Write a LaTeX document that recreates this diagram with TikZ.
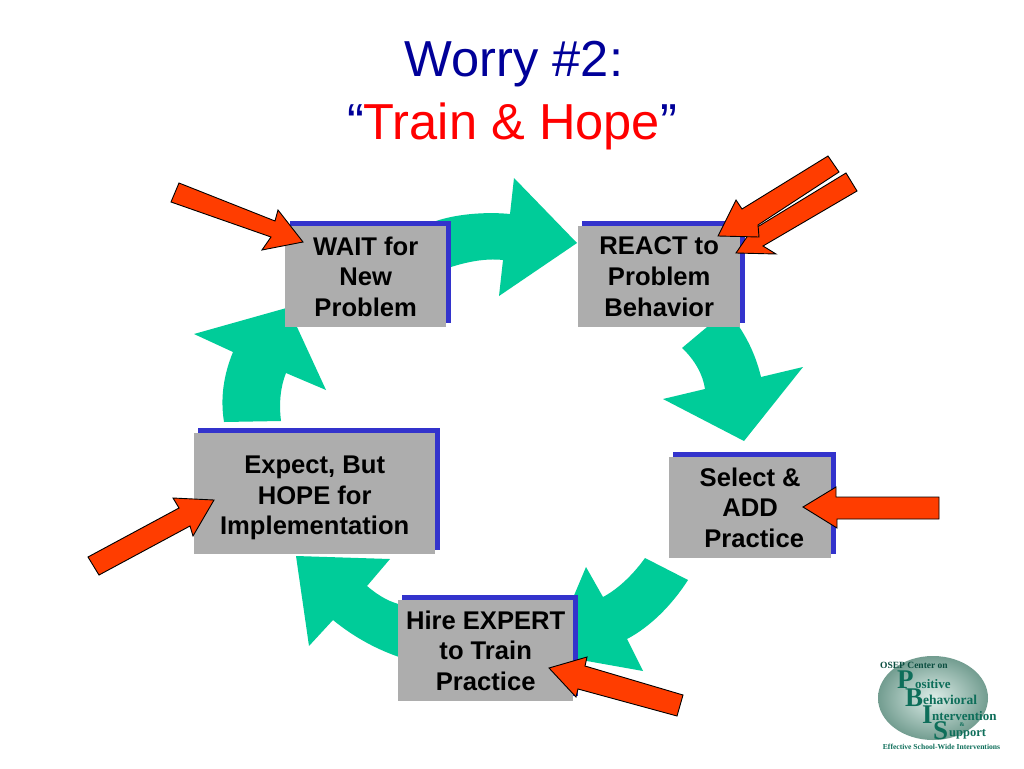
\documentclass[tikz,border=0pt]{standalone}
\usepackage{fontspec}
\setmainfont{Liberation Sans}
\newfontfamily\logofont{Liberation Serif}
\definecolor{tealc}{HTML}{00CC99}
\definecolor{boxg}{HTML}{ADADAD}
\definecolor{shad}{HTML}{3333CC}
\definecolor{redo}{HTML}{FF3D00}
\definecolor{titleb}{HTML}{000099}
\definecolor{logog}{HTML}{8FC4B4}
\definecolor{logod}{HTML}{0E6E5A}
\tikzset{
 bluebox/.style={fill=shad,draw=none},
 greybox/.style={fill=boxg,draw=none,align=center,font=\fontsize{25.6}{30.6}\selectfont\bfseries,text=black,inner sep=0pt},
 curved/.style={fill=tealc,draw=none},
 redarrow/.style={fill=redo,draw=black,line width=0.9pt,line join=miter},
 titlefont/.style={font=\fontsize{50.6}{60}\selectfont,inner sep=0pt},
 logotext/.style={font=\logofont\fontsize{#1}{#1}\selectfont\bfseries,text=logod,inner sep=0pt},
}
\begin{document}
\begin{tikzpicture}[x=1pt,y=-1pt]
\useasboundingbox (0,0) rectangle (1024,768);
\fill[white] (0,0) rectangle (1024,768);
% title
\node[titlefont,text=titleb,anchor=center] (t1) at (514,64) {Worry \#2:};
\node[titlefont,anchor=center] (t2) at (512,126) {\textcolor{titleb}{“}\textcolor{red}{Train \& Hope}\textcolor{titleb}{”}};
% curved arrows
\fill[curved] (436,221) .. controls (460,213) and (490,212) .. (510,214) -- (514,178) -- (577,243) -- (499,296) -- (503,260) .. controls (485,258) and (465,262) .. (445,269) -- cycle;
\fill[curved] (682,348) -- (713,322) -- (736,322) .. controls (745,335) and (755,352) .. (761,377) -- (803,367) -- (744,441) -- (663,399) -- (705,389) .. controls (703,375) and (695,360) .. (682,348) -- cycle;
\fill[curved] (688,580) -- (645,558) .. controls (635,572) and (620,588) .. (603,597) -- (586,567) -- (570,605) -- (570,658) -- (643,671) -- (627,639) .. controls (650,627) and (672,605) .. (688,580) -- cycle;
\fill[curved] (402,605) .. controls (390,602) and (380,597) .. (367,586) -- (390,559) -- (296,556) -- (309,646) -- (333,620) .. controls (355,638) and (378,650) .. (402,658) -- cycle;
\fill[curved] (224,422) .. controls (220,397) and (224,374) .. (233,352) -- (194,334) -- (290,307) -- (297,327) -- (326,390) -- (286,373) .. controls (280,388) and (279,405) .. (281,421) -- cycle;
% boxes
\fill[bluebox] (290,221) rectangle (451,323);
\node[greybox,minimum width=161pt,minimum height=101pt,anchor=north west] (wait) at (285,226) {WAIT for\\New\\Problem};
\fill[bluebox] (582,221) rectangle (745,323);
\node[greybox,minimum width=162pt,minimum height=101pt,anchor=north west] (react) at (578,226) {REACT to\\Problem\\Behavior};
\fill[bluebox] (673,452) rectangle (836,554);
\node[greybox,minimum width=162pt,minimum height=101pt,anchor=north west] (select) at (669,457) {Select \&\\ADD\\\hspace{8pt}Practice};
\fill[bluebox] (402,595) rectangle (578,696);
\node[greybox,minimum width=175pt,minimum height=101pt,anchor=north west] (hire) at (398,600) {Hire EXPERT\\to Train\\Practice};
\fill[bluebox] (198,428) rectangle (440,550);
\node[greybox,minimum width=241pt,minimum height=121pt,anchor=north west] (expect) at (194,433) {\rule{0pt}{26.5pt}Expect, But\\HOPE for\\Implementation};
% red arrows
\draw[redarrow] (179,183) -- (171,202) -- (271,237) -- (262,250) -- (303,242) -- (278,210) -- (275,221) -- cycle;
\draw[redarrow] (846,173) -- (857,191) -- (763,246) -- (776,254) -- (736,253) -- (753,228) -- (759,226) -- cycle;
\draw[redarrow] (828,156) -- (839,172) -- (758,225) -- (759,237) -- (718,236) -- (736,200) -- (742,209) -- cycle;
\draw[redarrow] (939,497) -- (939,519) -- (837,519) -- (837,528) -- (803,507) -- (836,487) -- (836,497) -- cycle;
\draw[redarrow] (683,695) -- (677,716) -- (578,689) -- (576,697) -- (549,668) -- (587,657) -- (585,666) -- cycle;
\draw[redarrow] (88,557) -- (99,575) -- (190,526) -- (193,536) -- (214,500) -- (173,498) -- (179,508) -- cycle;
% logo
\shade[outer color=logog!80!black,inner color=logog!30!white] (933,698) ellipse (55 and 42);
\node[logotext=9.5,anchor=west,text=logod!70!black] (l0) at (880,665) {OSEP Center on};
\node[logotext=27,anchor=west] (l1) at (897,680) {P};
\node[logotext=13,anchor=west] (l2) at (915,684) {ositive};
\node[logotext=27,anchor=west] (l3) at (905,698) {B};
\node[logotext=13.5,anchor=west] (l4) at (923,700) {ehavioral};
\node[logotext=27,anchor=west] (l5) at (922,715) {I};
\node[logotext=13,anchor=west] (l6) at (932,716.5) {ntervention};
\node[logotext=6,anchor=center] (l7) at (962,725) {\&};
\node[logotext=27,anchor=west] (l8) at (933,731) {S};
\node[logotext=12.5,anchor=west] (l9) at (949,734) {upport};
\node[logotext=7.6,anchor=center] (l10) at (941.5,747) {Effective School-Wide Interventions};
\end{tikzpicture}
\end{document}
